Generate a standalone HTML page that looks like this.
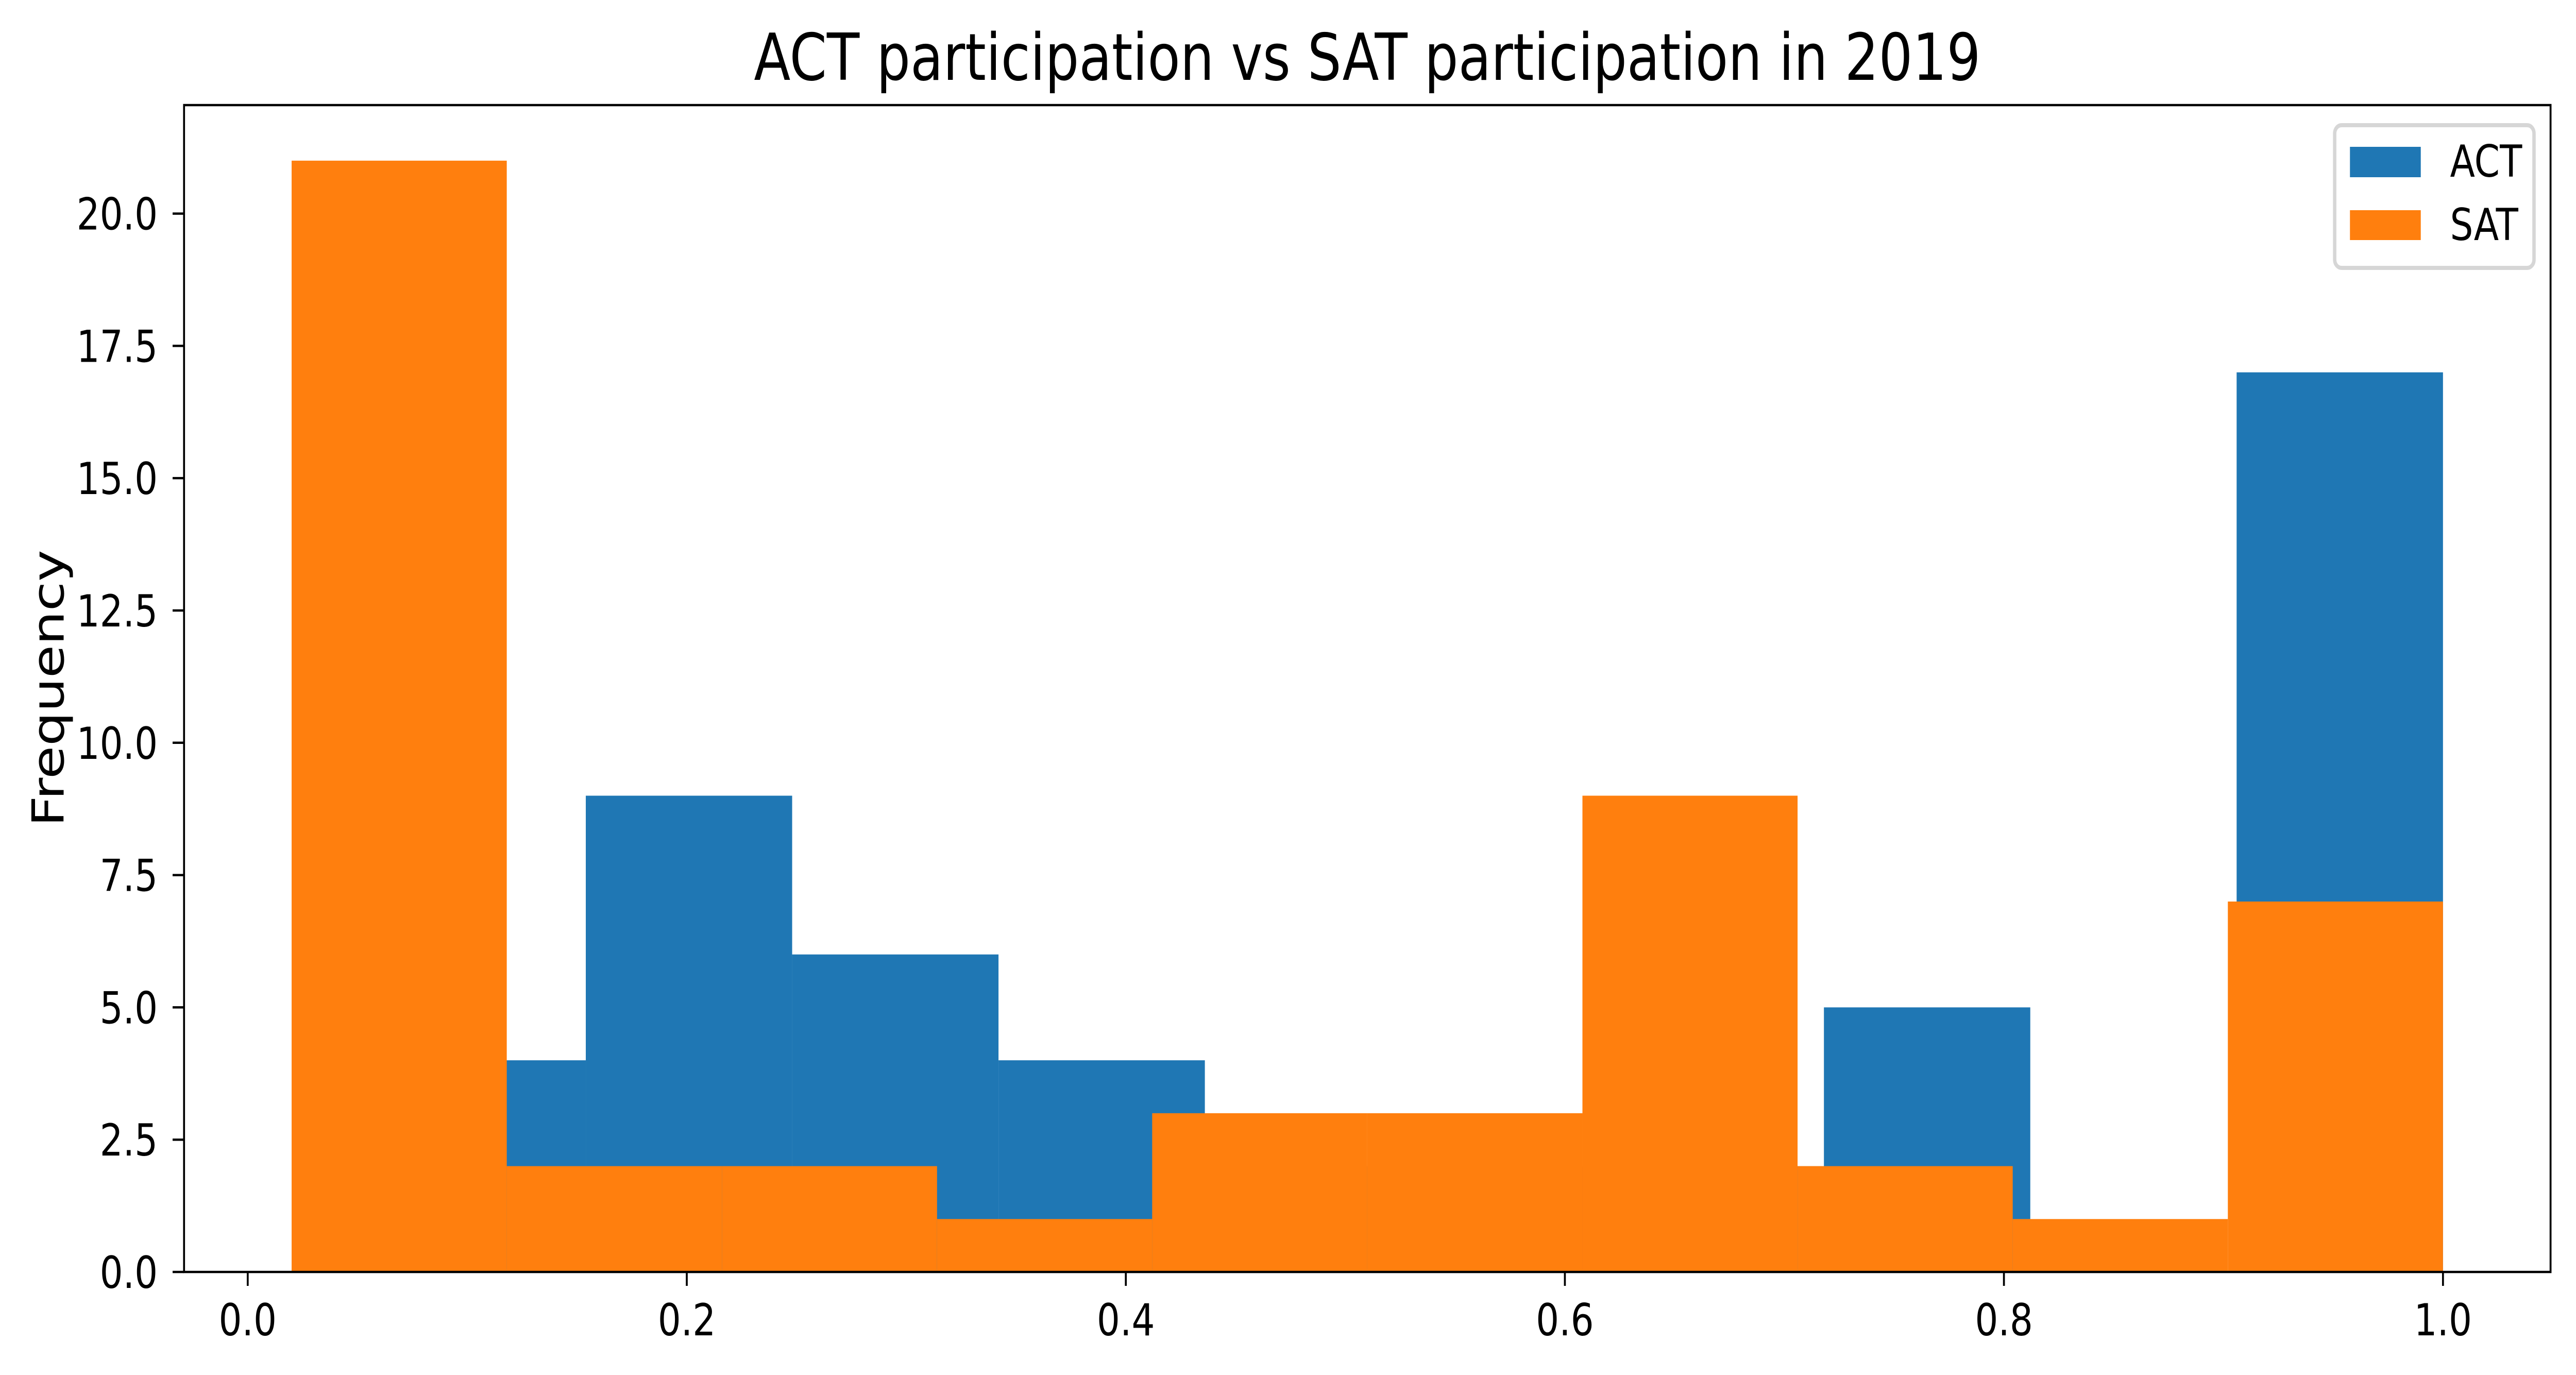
<!DOCTYPE html>
<html><head><meta charset="utf-8"><style>html,body{margin:0;padding:0;background:#fff;overflow:hidden;width:100vw;height:100vh}svg{display:block;width:100vw;height:100vh}text{font-family:"DejaVu Sans","Liberation Sans",sans-serif}</style></head>
<body>
<svg id="chart" viewBox="0 0 6074 2669" preserveAspectRatio="none" xmlns="http://www.w3.org/2000/svg">
<rect width="6074" height="2669" fill="#fff"/>
<text x="3224" y="155" font-size="126" text-anchor="middle">ACT participation vs SAT participation in 2019</text>
<g id="bars"></g>
<g id="axes"></g>
<text transform="translate(150,1336) rotate(-90)" font-size="104" text-anchor="middle">Frequency</text>
<g>
<rect x="5505" y="243" width="470" height="277" rx="16" fill="#fff" stroke="#d6d6d6" stroke-width="8"/>
<rect x="5541" y="285" width="167" height="59" fill="#1f77b4"/>
<text x="5777" y="343" font-size="86">ACT</text>
<rect x="5541" y="408" width="167" height="58" fill="#ff7f0e"/>
<text x="5777" y="466" font-size="86">SAT</text>
</g>
</svg>
<script>
const actEdges = [0.06,0.154,0.248,0.342,0.436,0.53,0.624,0.718,0.812,0.906,1.0];
const actCounts = [4,9,6,4,2,2,2,5,0,17];
const satEdges = [0.02,0.118,0.216,0.314,0.412,0.51,0.608,0.706,0.804,0.902,1.0];
const satCounts = [21,2,2,1,3,3,9,2,1,7];
const xTicks = [0.0,0.2,0.4,0.6,0.8,1.0];
const xTickLabels = ["0.0","0.2","0.4","0.6","0.8","1.0"];
const yTicks = [0,2.5,5,7.5,10,12.5,15,17.5,20];
const yTickLabels = ["0.0","2.5","5.0","7.5","10.0","12.5","15.0","17.5","20.0"];

const L=434,R=6014,T=204,B=2469;
const xMin=-0.029,xMax=1.049,yMin=0,yMax=22.05;
const sx=v=>L+(v-xMin)/(xMax-xMin)*(R-L);
const sy=v=>B-(v-yMin)/(yMax-yMin)*(B-T);
const NS="http://www.w3.org/2000/svg";
const bars=document.getElementById('bars');
function drawHist(edges,counts,color,name){
  for(let i=0;i<counts.length;i++){
    if(counts[i]<=0) continue;
    const r=document.createElementNS(NS,'rect');
    
    
    const x0=sx(edges[i]),x1=sx(edges[i+1]);
    r.setAttribute('x',x0);r.setAttribute('width',x1-x0);
    r.setAttribute('y',sy(counts[i]));r.setAttribute('height',sy(0)-sy(counts[i]));
    r.setAttribute('fill',color);
    bars.appendChild(r);
  }
}
drawHist(actEdges,actCounts,'#1f77b4','act');
drawHist(satEdges,satCounts,'#ff7f0e','sat');

const axes=document.getElementById('axes');
const frame=document.createElementNS(NS,'rect');


frame.setAttribute('x',L);frame.setAttribute('y',T);frame.setAttribute('width',R-L);frame.setAttribute('height',B-T);
frame.setAttribute('fill','none');frame.setAttribute('stroke','#000');frame.setAttribute('stroke-width','4.5');
axes.appendChild(frame);
xTicks.forEach((v,i)=>{
  const x=sx(v);
  const t=document.createElementNS(NS,'line');
  
  
  t.setAttribute('x1',x);t.setAttribute('x2',x);t.setAttribute('y1',B);t.setAttribute('y2',B+27);
  t.setAttribute('stroke','#000');t.setAttribute('stroke-width','4.5');
  axes.appendChild(t);
  const s=document.createElementNS(NS,'text');
  
  
  s.setAttribute('x',x);s.setAttribute('y',2592);s.setAttribute('font-size','86');s.setAttribute('text-anchor','middle');
  s.textContent=xTickLabels[i];
  axes.appendChild(s);
});
yTicks.forEach((v,i)=>{
  const y=sy(v);
  const t=document.createElementNS(NS,'line');
  
  
  t.setAttribute('x1',L-27);t.setAttribute('x2',L);t.setAttribute('y1',y);t.setAttribute('y2',y);
  t.setAttribute('stroke','#000');t.setAttribute('stroke-width','4.5');
  axes.appendChild(t);
  const s=document.createElementNS(NS,'text');
  
  
  s.setAttribute('x',372);s.setAttribute('y',y+31);s.setAttribute('font-size','86');s.setAttribute('text-anchor','end');
  s.textContent=yTickLabels[i];
  axes.appendChild(s);
});
</script>
</body></html>
